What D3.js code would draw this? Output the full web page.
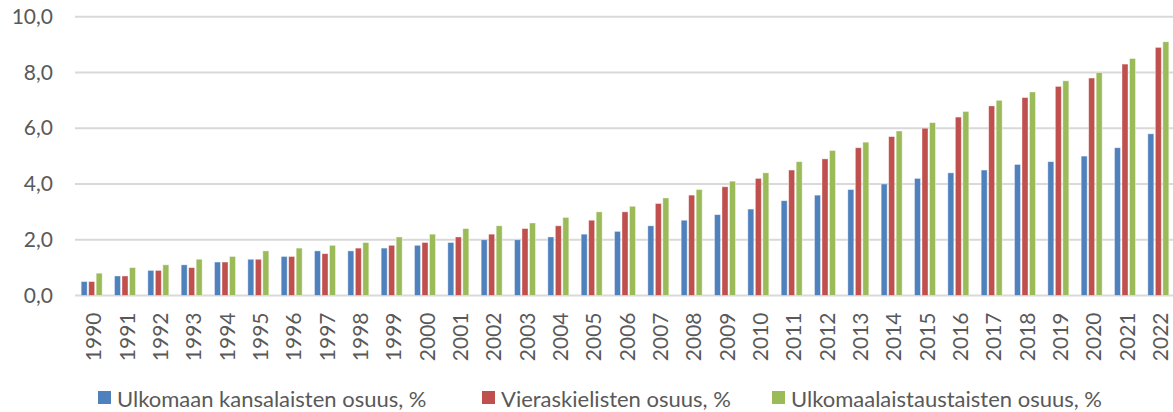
<!DOCTYPE html>
<html>
<head>
<meta charset="utf-8">
<script src="https://cdn.jsdelivr.net/npm/d3@7"></script>
<style>
  html, body { margin: 0; padding: 0; background: #fff; }
  svg { display: block; font-family: Lato, "Open Sans", sans-serif; }
</style>
</head>
<body>
<svg id="chart" width="1173" height="412"></svg>
<script>
const years = ["1990","1991","1992","1993","1994","1995","1996","1997","1998","1999","2000","2001","2002","2003","2004","2005","2006","2007","2008","2009","2010","2011","2012","2013","2014","2015","2016","2017","2018","2019","2020","2021","2022"];
const seriesNames = ["Ulkomaan kansalaisten osuus, %", "Vieraskielisten osuus, %", "Ulkomaalaistaustaisten osuus, %"];
const ulkomaanKansalaiset = [0.5,0.7,0.9,1.1,1.2,1.3,1.4,1.6,1.6,1.7,1.8,1.9,2.0,2.0,2.1,2.2,2.3,2.5,2.7,2.9,3.1,3.4,3.6,3.8,4.0,4.2,4.4,4.5,4.7,4.8,5.0,5.3,5.8];
const vieraskieliset = [0.5,0.7,0.9,1.0,1.2,1.3,1.4,1.5,1.7,1.8,1.9,2.1,2.2,2.4,2.5,2.7,3.0,3.3,3.6,3.9,4.2,4.5,4.9,5.3,5.7,6.0,6.4,6.8,7.1,7.5,7.8,8.3,8.9];
const ulkomaalaistaustaiset = [0.8,1.0,1.1,1.3,1.4,1.6,1.7,1.8,1.9,2.1,2.2,2.4,2.5,2.6,2.8,3.0,3.2,3.5,3.8,4.1,4.4,4.8,5.2,5.5,5.9,6.2,6.6,7.0,7.3,7.7,8.0,8.5,9.1];
const yTicks = [0, 2, 4, 6, 8, 10];
const colors = ["#4F81BD", "#C0504D", "#9BBB59"];

const seriesValues = [ulkomaanKansalaiset, vieraskieliset, ulkomaalaistaustaiset];
const svg = d3.select("#chart");

const x0 = d3.scaleBand().domain(years).range([75, 1175]).paddingInner(0.37).paddingOuter(0.185);
const x1 = d3.scaleBand().domain([0,1,2]).range([0, x0.bandwidth()]).paddingInner(0.2);
const y = d3.scaleLinear().domain([0, 10]).range([295.5, 16.7]);
const fmt = d => d3.format(".1f")(d).replace(".", ",");

// gridlines
svg.append("g").selectAll("line").data(yTicks).join("line")
  .attr("x1", 75).attr("x2", 1175)
  .attr("y1", d => y(d)).attr("y2", d => y(d))
  .attr("stroke", "#d9d9d9").attr("stroke-width", 2);

// y axis labels
const yAxis = d3.axisLeft(y).tickValues(yTicks).tickFormat(fmt).tickSize(0).tickPadding(0);
const ya = svg.append("g").attr("transform", "translate(53,0)").call(yAxis);
ya.select(".domain").remove();
ya.selectAll("text").attr("fill", "#595959").style("font-size", "21px").style("font-family", "Lato, sans-serif");

// bars
const groups = svg.append("g").selectAll("g").data(years).join("g")
  .attr("transform", d => `translate(${x0(d)},0)`);
groups.selectAll("rect").data((d, i) => seriesValues.map((s, k) => ({k, v: s[i]}))).join("rect")
  .attr("x", d => x1(d.k))
  .attr("width", x1.bandwidth())
  .attr("y", d => y(d.v))
  .attr("height", d => y(0) - y(d.v))
  .attr("fill", d => colors[d.k])
  .attr("stroke", "#ffffff").attr("stroke-opacity", 0.5).attr("stroke-width", 0.8);

// x axis labels
const xAxis = d3.axisBottom(x0).tickSize(0).tickPadding(0);
const xa = svg.append("g").attr("transform", "translate(0,295.5)").call(xAxis);
xa.select(".domain").remove();
xa.selectAll("text")
  .attr("fill", "#595959").style("font-size", "21px").style("font-family", "Lato, sans-serif")
  .attr("text-anchor", "end").attr("dy", null).attr("y", 0).attr("x", 0)
  .attr("dominant-baseline", "central")
  .attr("transform", "translate(1,17) rotate(-90)");

// legend
const legendX = [98, 482, 772];
const lg = svg.append("g").selectAll("g").data(seriesNames).join("g")
  .attr("transform", (d, i) => `translate(${legendX[i]},398)`);
lg.append("rect").attr("x", 0).attr("y", -7).attr("width", 13).attr("height", 13).attr("fill", (d, i) => colors[i]);
lg.append("text").attr("x", 19).attr("y", 0).attr("dominant-baseline", "central")
  .attr("fill", "#595959").style("font-size", "22px").text(d => d);
</script>
</body>
</html>
